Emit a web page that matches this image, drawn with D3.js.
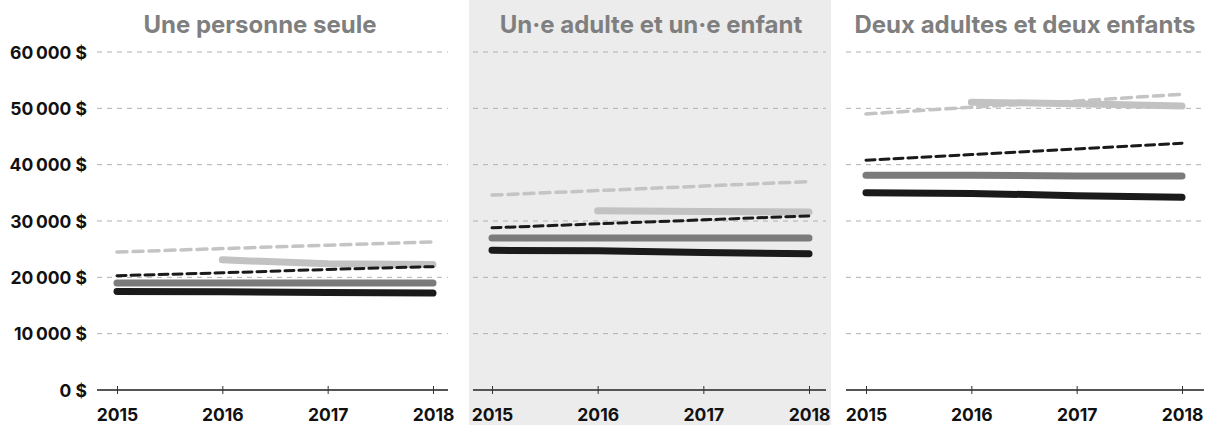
<!DOCTYPE html>
<html>
<head>
<meta charset="utf-8">
<script src="https://cdn.jsdelivr.net/npm/d3@7"></script>
<style>
  html, body { margin: 0; padding: 0; background: #fff; }
  svg { display: block; font-family: Inter, "Open Sans", sans-serif; }
</style>
</head>
<body>
<svg id="chart" width="1207" height="425"></svg>
<script>
// ---- Data ----
const years = [2015, 2016, 2017, 2018];
const panelTitles = ["Une personne seule", "Un·e adulte et un·e enfant", "Deux adultes et deux enfants"];
const yTicks = [0, 10000, 20000, 30000, 40000, 50000, 60000];

// Une personne seule
const seuleNoir = [17500, 17450, 17300, 17200];
const seuleGris = [19000, 19000, 19000, 19000];
const seuleClair = [null, 23100, 22400, 22300];
const seuleNoirTirets = [20300, 20800, 21400, 21900];
const seuleClairTirets = [24500, 25100, 25700, 26300];

// Un·e adulte et un·e enfant
const monoNoir = [24800, 24700, 24400, 24200];
const monoGris = [27000, 27000, 27000, 27000];
const monoClair = [null, 31800, 31700, 31600];
const monoNoirTirets = [28800, 29500, 30200, 30900];
const monoClairTirets = [34600, 35400, 36200, 37000];

// Deux adultes et deux enfants
const deuxNoir = [35000, 34900, 34500, 34200];
const deuxGris = [38100, 38100, 38000, 38000];
const deuxClair = [null, 51100, 50800, 50400];
const deuxNoirTirets = [40800, 41800, 42800, 43800];
const deuxClairTirets = [49000, 50200, 51300, 52500];

const panelSeries = [
  [seuleClairTirets, seuleClair, seuleNoirTirets, seuleGris, seuleNoir],
  [monoClairTirets, monoClair, monoNoirTirets, monoGris, monoNoir],
  [deuxClairTirets, deuxClair, deuxNoirTirets, deuxGris, deuxNoir]
];

// ---- Styles ----
const seriesStyle = [
  { color: "#c4c4c4", width: 3.5, dash: "10 6" },
  { color: "#c2c2c2", width: 7, dash: null },
  { color: "#1a1a1a", width: 3, dash: "9 5" },
  { color: "#7b7b7b", width: 7, dash: null },
  { color: "#1a1a1a", width: 7, dash: null }
];

const layout = [
  { gx0: 97, gx1: 448, x0: 117, x1: 433, titleX: 260, bg: false },
  { gx0: 473, gx1: 826, x0: 492, x1: 809, titleX: 651, bg: true, bgx0: 469, bgx1: 831 },
  { gx0: 846, gx1: 1204, x0: 866, x1: 1182, titleX: 1025, bg: false }
];

const svg = d3.select("#chart");
const y = d3.scaleLinear().domain([0, 60000]).range([390, 52]);
const fmt = v => d3.format(",")(v).replace(/,/g, "\u202F") + "\u00A0$";

layout.forEach((L, i) => {
  const g = svg.append("g");
  if (L.bg) {
    g.append("rect").attr("x", L.bgx0).attr("y", 0)
      .attr("width", L.bgx1 - L.bgx0).attr("height", 425).attr("fill", "#ececec");
  }
  const x = d3.scaleLinear().domain([2015, 2018]).range([L.x0, L.x1]);

  // grid
  g.selectAll(".grid").data(yTicks.filter(d => d > 0)).join("line")
    .attr("x1", L.gx0).attr("x2", L.gx1)
    .attr("y1", d => y(d)).attr("y2", d => y(d))
    .attr("stroke", "#b0b0b0").attr("stroke-width", 1)
    .attr("stroke-dasharray", "5 5");

  // title
  g.append("text").attr("x", L.titleX).attr("y", 33)
    .attr("text-anchor", "middle").attr("fill", "#7f7f7f")
    .attr("font-size", 24).attr("font-weight", 700)
    .text(panelTitles[i]);

  // lines
  const line = d3.line().defined(d => d != null)
    .x((d, j) => x(years[j])).y(d => y(d));
  panelSeries[i].forEach((s, k) => {
    const st = seriesStyle[k];
    g.append("path").datum(s)
      .attr("d", line)
      .attr("fill", "none")
      .attr("stroke", st.color)
      .attr("stroke-width", st.width)
      .attr("stroke-linecap", "round")
      .attr("stroke-linejoin", "round")
      .attr("stroke-dasharray", st.dash);
  });

  // x axis
  const axis = g.append("g").attr("transform", `translate(0,${y(0)})`);
  axis.append("line").attr("x1", L.gx0).attr("x2", L.gx1)
    .attr("stroke", "#555").attr("stroke-width", 2);
  const xAxis = d3.axisBottom(x).tickValues(years).tickFormat(d3.format("d"))
    .tickSize(0).tickPadding(0);
  const ax = axis.append("g").call(xAxis);
  ax.select(".domain").remove();
  ax.selectAll(".tick line").remove();
  ax.selectAll(".tick").append("line")
    .attr("y1", -4).attr("y2", 4).attr("stroke", "#333").attr("stroke-width", 1);
  ax.selectAll(".tick text")
    .attr("y", 31).attr("dy", 0)
    .attr("font-family", "Inter, 'Open Sans', sans-serif")
    .attr("font-size", 17.5).attr("font-weight", 700).attr("fill", "#111");
});

// y labels
const yAxis = d3.axisLeft(y).tickValues(yTicks).tickFormat(fmt).tickSize(0).tickPadding(0);
const ya = svg.append("g").attr("transform", "translate(87,0)").call(yAxis);
ya.select(".domain").remove();
ya.selectAll(".tick text")
  .attr("font-family", "Inter, 'Open Sans', sans-serif")
  .attr("font-size", 17.5).attr("font-weight", 700).attr("fill", "#111")
  .attr("dy", "0.35em");
</script>
</body>
</html>
